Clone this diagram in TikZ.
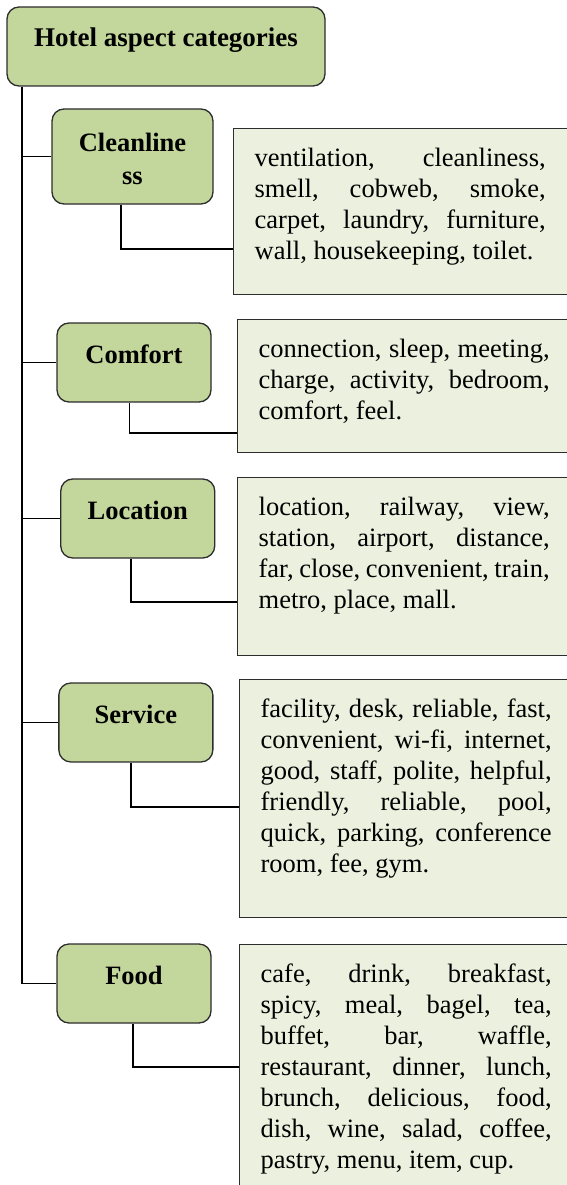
\documentclass[tikz,border=0pt]{standalone}
\usepackage{fontspec}
\setmainfont{Liberation Serif}
\definecolor{catgreen}{RGB}{195,214,155}
\definecolor{listgreen}{RGB}{235,241,222}
\definecolor{boxline}{RGB}{45,45,45}
\usetikzlibrary{positioning}

% justified word list, fixed height, text at the top
\newcommand{\wordlist}[2]{\parbox[t][#1][t]{291pt}{\fontsize{26.5}{31}\selectfont
  \hyphenpenalty=10000\hbadness=10000\strut #2}\hspace*{60pt}}

\begin{document}
\begin{tikzpicture}[x=1pt, y=-1pt,
    catbox/.style={draw=boxline, fill=catgreen, line width=1.3pt, rounded corners=12pt,
      minimum width=154pt, text height=40pt, text depth=39pt, inner xsep=0pt, inner ysep=0pt,
      font=\fontsize{26.5}{33}\selectfont\bfseries},
    listbox/.style={draw=boxline, fill=listgreen, line width=1.3pt, anchor=north west,
      inner xsep=21pt, inner ysep=16pt},
    link/.style={line width=1.9pt, black}]
    \useasboundingbox (0,0) rectangle (567,1185);
    \clip (0,0) rectangle (567,1185);

    % Root
    \node[catbox, minimum width=318pt, font=\fontsize{27}{33}\selectfont\bfseries] (root) at (166,46.5) {Hotel aspect categories};

    % Categories
    \node[catbox, minimum width=161pt, align=center, text height=76pt, text depth=19pt] (clean) at (132.5,156.5) {Cleanline\\ss};
    \node[catbox] (comfort) at (134,362.5) {Comfort};
    \node[catbox] (location) at (137.75,518.5) {Location};
    \node[catbox] (service) at (135.85,722.5) {Service};
    \node[catbox] (food) at (134,983.5) {Food};

    % Word lists
    \node[listbox] (clean-list) at (233,128) {\wordlist{134pt}{ventilation, cleanliness,\linebreak
      smell, cobweb, smoke,\linebreak carpet, laundry, furniture,\linebreak wall, housekeeping, toilet.}};
    \node[listbox] (comfort-list) at (237,319) {\wordlist{101pt}{connection, sleep, meeting,\linebreak
      charge, activity, bedroom,\linebreak comfort, feel.}};
    \node[listbox] (location-list) at (237,477) {\wordlist{146pt}{location, railway, view,\linebreak
      station, airport, distance,\linebreak far, close, convenient, train,\linebreak metro, place, mall.}};
    \node[listbox] (service-list) at (239,679) {\wordlist{206pt}{facility, desk, reliable, fast,\linebreak
      convenient, wi-fi, internet,\linebreak good, staff, polite, helpful,\linebreak
      friendly, reliable, pool,\linebreak quick, parking, conference\linebreak room, fee, gym.}};
    \node[listbox] (food-list) at (239,944) {\wordlist{228pt}{cafe, drink, breakfast,\linebreak
      spicy, meal, bagel, tea,\linebreak buffet, bar, waffle,\linebreak restaurant, dinner, lunch,\linebreak
      brunch, delicious, food,\linebreak dish, wine, salad, coffee,\linebreak pastry, menu, item, cup.}};

    % Trunk and branches
    \coordinate (stem) at ([xshift=16pt]root.south west);
    \draw[link] (stem) |- (food.west);
    \foreach \cat in {clean,comfort,location,service}
        \draw[link] (stem |- \cat.west) -- (\cat.west);

    % Category to word list
    \foreach \cat/\dx/\dy in {clean/-11.5/121, comfort/-4.5/114, location/-7/125, service/-5/128, food/-1/123}
        \draw[link] ([xshift=\dx pt]\cat.south) |- ([yshift=-\dy pt]\cat-list.north west);
\end{tikzpicture}
\end{document}
